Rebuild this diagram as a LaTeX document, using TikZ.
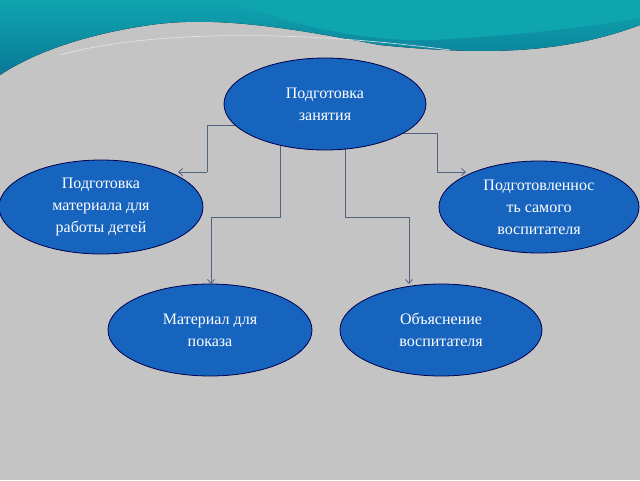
\documentclass[tikz,border=0pt]{standalone}
\usepackage{fontspec}
\setmainfont{Liberation Serif}
\usetikzlibrary{shapes.geometric,arrows.meta}
\begin{document}
\begin{tikzpicture}[x=1pt,y=-1pt,
  el/.style={ellipse,draw=blue!30!black,line width=0.8pt,fill=ellfill,text=white,align=center,font=\fontsize{16}{22}\selectfont,inner sep=0pt},
  conn/.style={draw=linec,line width=0.8pt,-{Straight Barb[length=4pt,width=7pt]}},
  conn0/.style={draw=linec,line width=0.8pt}]
\definecolor{ellfill}{RGB}{23,100,190}
\definecolor{linec}{RGB}{80,100,125}
\definecolor{bgc}{RGB}{196,196,196}
\definecolor{teal1}{RGB}{10,120,150}
\definecolor{teal2}{RGB}{15,165,175}
\useasboundingbox (0,0) rectangle (640,480);
\fill[bgc] (0,0) rectangle (640,480);
\fill[left color=teal2, right color=teal1, shading angle=0] (0,0) -- (640,0) -- (640,25) .. controls (560,55) and (480,55) .. (380,45) .. controls (300,30) and (220,15) .. (150,25) .. controls (80,35) and (30,55) .. (0,75) -- cycle;
\fill[teal2] (230,0) .. controls (300,30) and (380,42) .. (430,40) .. controls (520,36) and (600,25) .. (640,18) -- (640,0) -- cycle;
\draw[white!80!gray,line width=0.6pt] (60,55) .. controls (150,30) and (300,30) .. (450,50);
\coordinate (s1) at (260,125);
\coordinate (s2) at (390,133);
\coordinate (s3) at (280,140);
\coordinate (s4) at (345,140);
\coordinate (lt) at (178,172);
\coordinate (rt) at (466,172);
\coordinate (blt) at (211,284);
\coordinate (brt) at (409,284);
\draw[conn0] (s1) -- (207,125) -- (207,172);
\draw[conn] (207,172) -- (lt);
\draw[conn] (s2) -- (437,133) -- (437,172) -- (rt);
\draw[conn] (s3) -- (280,217) -- (211,217) -- (blt);
\draw[conn] (s4) -- (345,217) -- (409,217) -- (brt);
\node[el,minimum width=202pt,minimum height=92pt] (top) at (325,104) {Подготовка\\занятия};
\node[el,minimum width=204pt,minimum height=94pt] (l) at (101,207) {Подготовка\\материала для\\работы детей};
\node[el,minimum width=200pt,minimum height=92pt] (r) at (539,207) {Подготовленнос\\ть самого\\воспитателя};
\node[el,minimum width=204pt,minimum height=92pt] (bl) at (210,330) {Материал для\\показа};
\node[el,minimum width=202pt,minimum height=92pt] (br) at (441,330) {Объяснение\\воспитателя};
\end{tikzpicture}
\end{document}
